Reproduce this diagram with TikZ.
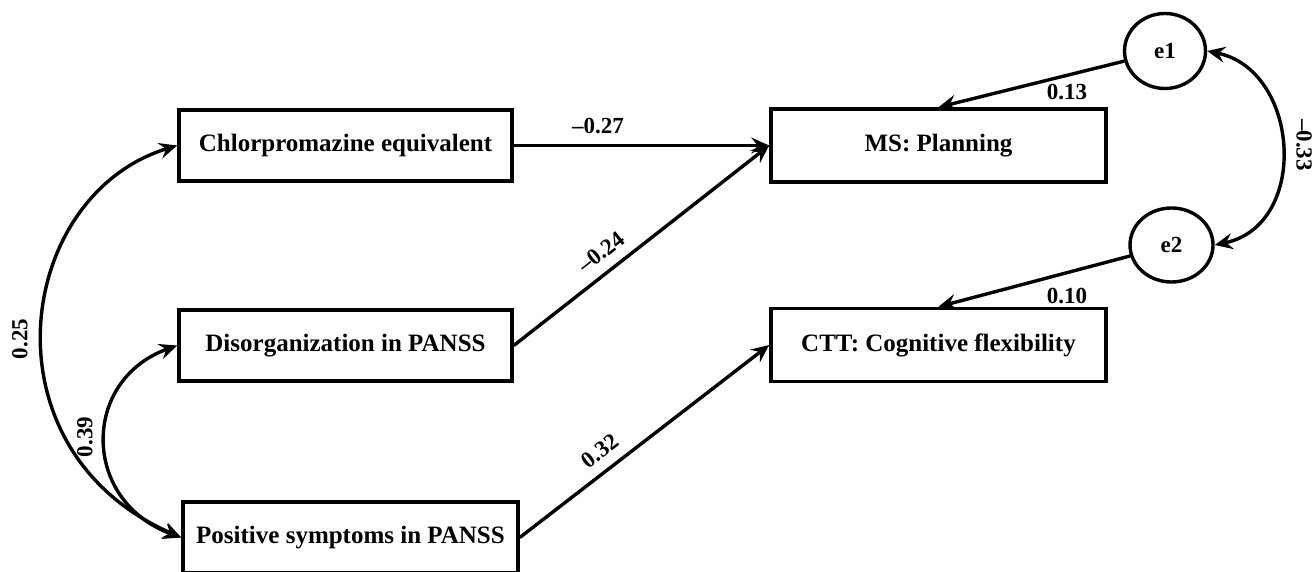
\documentclass[tikz,border=0pt]{standalone}
\usepackage{fontspec}
\setmainfont{Liberation Serif}
\usetikzlibrary{arrows.meta,shapes.geometric}
\begin{document}
\begin{tikzpicture}[x=1pt,y=-1pt,
  box/.style={draw, line width=3.6pt, minimum width=333pt, minimum height=71pt, inner sep=0pt,
    font=\fontsize{25}{30}\selectfont\bfseries},
  err/.style={draw, ellipse, line width=3.4pt, minimum width=81pt, minimum height=75pt, inner sep=0pt,
    font=\fontsize{23}{27}\selectfont\bfseries},
  tip/.tip={Stealth[length=18pt,width=16pt,inset=6.5pt]},
  regarrow/.style={line width=3.4pt, -tip},
  cov/.style={line width=3.4pt, tip-tip},
  lab/.style={font=\fontsize{23}{27}\selectfont\bfseries, inner sep=1pt}]
\useasboundingbox (0,0) rectangle (1312,572);
\fill[white] (0,0) rectangle (1312,572);
\clip (0,0) rectangle (1312,572);

% nodes
\node[box] (chl) at (345.5,145.5) {Chlorpromazine equivalent};
\node[box] (dis) at (345.5,345.5) {Disorganization in PANSS};
\node[box, minimum width=335pt] (pos) at (350.5,537.5) {Positive symptoms in PANSS};
\node[box, minimum width=335pt, minimum height=73pt] (ms) at (938.5,145.5) {MS: Planning};
\node[box, minimum width=335pt, minimum height=73pt] (ctt) at (938.5,345) {CTT: Cognitive flexibility};
\node[err] (e1) at (1165,51) {e1};
\node[err, minimum width=83pt, minimum height=74pt] (e2) at (1171.5,245) {e2};

% regression paths
\draw[regarrow] (chl.east) -- node[lab, above=9pt, pos=0.33] (l27) {–0.27} (ms.west);
\draw[regarrow] (dis.east) -- node[lab, sloped, above=9pt, pos=0.39] (l24) {–0.24} (ms.west);
\draw[regarrow] (pos.east) -- node[lab, sloped, above=9pt, pos=0.37] (l32) {0.32} (ctt.west);
\draw[regarrow] (e1) -- (ms.north);
\draw[regarrow] (e2) -- (ctt.north);
\node[lab] (l13) at (1067,92) {0.13};
\node[lab] (l10) at (1067,296) {0.10};

% covariances
\draw[cov] (chl.west) .. controls (15,195) and (-20,450) .. (pos.west);
\draw[cov] (dis.west) .. controls (81,380) and (81,501) .. (pos.west);
\draw[cov] (e1.east) .. controls (1300,70) and (1310,225) .. (e2.east);
\node[lab, rotate=90] (l25) at (20,339) {0.25};
\node[lab, rotate=90] (l39) at (85,437) {0.39};
\node[lab, rotate=-90] (l33) at (1304,145) {–0.33};
\end{tikzpicture}
\end{document}
